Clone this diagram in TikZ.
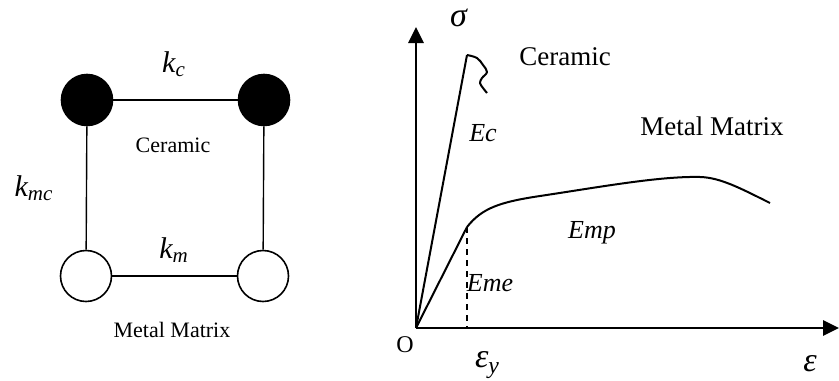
\documentclass[tikz,border=0pt]{standalone}
\usepackage{amsmath}
\usepackage{fontspec}
\setmainfont{Liberation Serif}
\usetikzlibrary{arrows.meta}

\begin{document}
\begin{tikzpicture}[
    x=0.5pt, y=-0.5pt,
    atom/.style={draw, circle, line width=0.8pt, minimum size=25.5pt, inner sep=0pt},
    bond/.style={line width=0.7pt},
    lbl/.style={font=\fontsize{11}{13}\selectfont},
    biglbl/.style={font=\fontsize{13.5}{15}\selectfont},
    sym/.style={font=\fontsize{15}{17}\selectfont},
    grk/.style={font=\fontsize{17}{19}\selectfont},
    mlbl/.style={font=\fontsize{13}{15}\selectfont\itshape},
    axis/.style={line width=1.4pt, -{Triangle[width=7.5pt, length=8pt]}},
    curve/.style={line width=1pt, line join=round},
  ]
    \useasboundingbox (0,0) rectangle (839,380);

    % --- Lattice (left) ---
    \node[atom, fill=black] (c1) at (87,100) {};
    \node[atom, fill=black] (c2) at (264,100) {};
    \node[atom, fill=white] (m1) at (86,276) {};
    \node[atom, fill=white] (m2) at (263,276) {};
    \draw[bond] (c1) -- (c2);
    \draw[bond] (m1) -- (m2);
    \draw[bond] (c1) -- (m1);
    \draw[bond] (c2) -- (m2);
    \node[sym] (kc)  at (174,64)  {$\textit{k}_{\textit{c}}$};
    \node[sym] (kmc) at (34,188)  {$\textit{k}_{\textit{mc}}$};
    \node[sym] (km)  at (174,250) {$\textit{k}_{\textit{m}}$};
    \node[lbl] (cer1) at (173,145) {Ceramic};
    \node[lbl] (met1) at (172,330) {Metal Matrix};

    % --- Stress-strain (right) ---
    \coordinate (O) at (416,328);
    \coordinate (ytip) at (416,27);
    \coordinate (xtip) at (839,328);
    \coordinate (peak) at (467,55);
    \coordinate (yield) at (467,227);
    \draw[axis] (O) -- (ytip);
    \draw[axis] (O) -- (xtip);
    \node[grk] (sig) at (459,18) {\textit{σ}};
    \node[grk, inner sep=0pt, anchor=base] (eps) at (810,371) {\textit{ε}};
    \node[font=\fontsize{12}{14}\selectfont] (orig) at (405,345) {O};
    \node[grk, anchor=west] (epsy) at (468,365) {$\textit{ε}_{\textit{y}}$};
    % ceramic: linear then brittle fracture
    \draw[curve] (O) -- (peak);
    \draw[curve] plot[smooth, tension=0.6] coordinates
      {(467,55) (477,58) (483,65) (487,72) (482,78) (480,83) (483,88) (487,93)};
    % metal matrix: elastic then plastic
    \draw[curve] (O) -- (yield);
    \draw[curve] (yield) .. controls (482,208) and (500,202) .. (540,196)
      .. controls (600,187) and (660,176) .. (700,177)
      .. controls (720,177.5) and (740,188) .. (770,203);
    \draw[line width=1pt, dash pattern=on 3pt off 2.5pt] (yield) -- (yield |- O);
    % Labels
    \node[biglbl] (cer2) at (565,57) {Ceramic};
    \node[biglbl] (met2) at (712,126) {Metal Matrix};
    \node[mlbl] (ec)  at (483,133) {Ec};
    \node[mlbl] (emp) at (592,233) {Emp};
    \node[mlbl] (eme) at (490,283) {Eme};
  \end{tikzpicture}
\end{document}
